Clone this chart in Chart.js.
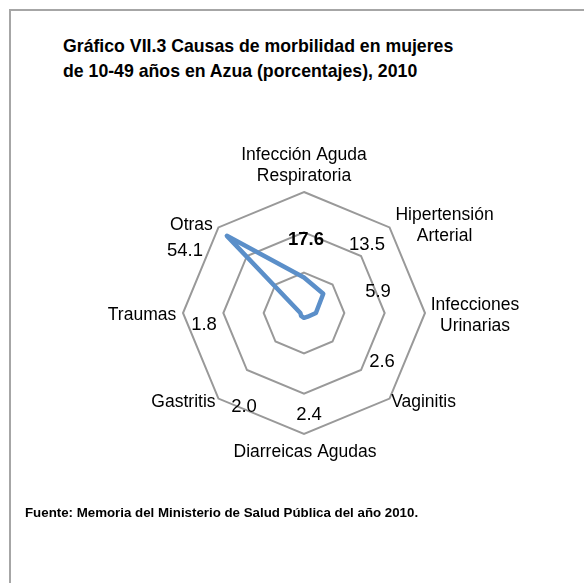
<!DOCTYPE html>
<html>
<head>
<meta charset="utf-8">
<script src="https://cdn.jsdelivr.net/npm/chart.js@4"></script>
<style>
  body { margin: 0; background: #fff; font-family: "Liberation Sans", Arial, sans-serif; }
  .frame { position: absolute; left: 9px; top: 9px; width: 620px; height: 620px; border: 2px solid #a6a6a6; }
  .title { position: absolute; left: 63px; top: 34px; font-size: 17.7px; font-weight: bold; line-height: 25px; color: #000; }
  .source { position: absolute; left: 25px; top: 505px; font-size: 13.3px; font-weight: bold; line-height: 16px; color: #000; }
  .chart-box { position: absolute; left: 0; top: 0; width: 584px; height: 583px; }
</style>
</head>
<body>
<div class="frame"></div>
<div class="title">Gráfico VII.3 Causas de morbilidad en mujeres<br>de 10-49 años en Azua (porcentajes), 2010</div>
<div class="chart-box"><canvas id="myChart"></canvas></div>
<div class="source">Fuente: Memoria del Ministerio de Salud Pública del año 2010.</div>

<script>
const categories = [
  ["Infección Aguda", "Respiratoria"],
  ["Hipertensión", "Arterial"],
  ["Infecciones", "Urinarias"],
  ["Vaginitis"],
  ["Diarreicas Agudas"],
  ["Gastritis"],
  ["Traumas"],
  ["Otras"],
];
const values = [17.6, 13.5, 5.9, 2.6, 2.4, 2.0, 1.8, 54.1];
const valueLabels = ["17.6", "13.5", "5.9", "2.6", "2.4", "2.0", "1.8", "54.1"];
const axisMax = 60;
const axisStep = 20;

// value label position, relative to the radar centre (px)
const labelOffsets = [
  [2, -73], [63, -68], [74, -21], [78, 49],
  [5, 102], [-60, 94], [-100, 12], [-119, -62],
];
// category label centre, relative to the outer vertex of its axis (px)
const catOffsets = [
  [0, -26], [55, -2], [50, 3], [34, 4],
  [1, 18], [-35, 4], [-41, 2], [-27, -2],
];

const FONT = "'Liberation Sans', Arial, sans-serif";

const labelsPlugin = {
  id: "radarLabels",
  afterDatasetsDraw(chart) {
    const r = chart.scales.r;
    const c = chart.ctx;
    c.save();
    c.fillStyle = "#000";
    c.textAlign = "center";
    c.textBaseline = "middle";

    // category names
    c.font = "17.5px " + FONT;
    categories.forEach((lines, i) => {
      const p = r.getPointPositionForValue(i, axisMax);
      const cx = p.x + catOffsets[i][0];
      const cy = p.y + catOffsets[i][1];
      const lh = 21;
      lines.forEach((ln, k) => {
        c.fillText(ln, cx, cy + (k - (lines.length - 1) / 2) * lh);
      });
    });

    // values
    valueLabels.forEach((txt, i) => {
      c.font = (i === 0 ? "bold " : "") + "18.5px " + FONT;
      c.fillText(txt, r.xCenter + labelOffsets[i][0], r.yCenter + labelOffsets[i][1]);
    });
    c.restore();
  },
};

const ctx = document.getElementById("myChart");

new Chart(ctx, {
  type: "radar",
  data: {
    labels: categories,
    datasets: [
      {
        label: "Mujeres 10-49",
        data: values,
        borderColor: "#5b8fc9",
        borderWidth: 4.5,
        borderJoinStyle: "round",
        fill: false,
        pointRadius: 0,
        pointHoverRadius: 0,
      },
    ],
  },
  options: {
    responsive: true,
    maintainAspectRatio: false,
    animation: false,
    layout: { padding: { left: 183, right: 159, top: 192, bottom: 149 } },
    plugins: {
      legend: { display: false },
      tooltip: { enabled: false },
    },
    scales: {
      r: {
        min: 0,
        max: axisMax,
        ticks: { display: false, stepSize: axisStep },
        angleLines: { display: false },
        grid: { color: "#999999", lineWidth: 2 },
        pointLabels: { display: false },
      },
    },
  },
  plugins: [labelsPlugin],
});
</script>
</body>
</html>
